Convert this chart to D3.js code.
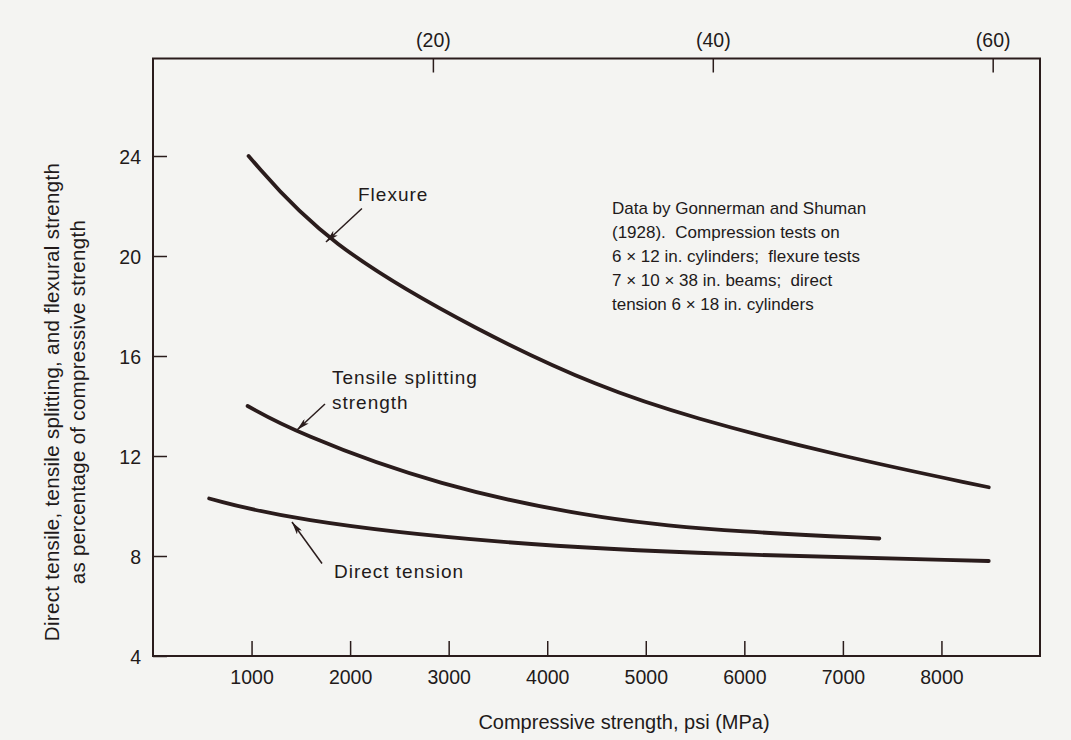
<!DOCTYPE html>
<html>
<head>
<meta charset="utf-8">
<script src="https://cdn.jsdelivr.net/npm/d3@7"></script>
<style>
  html, body { margin: 0; padding: 0; background: #f4f4f2; }
  svg { display: block; }
  text { font-family: "Liberation Sans", Arial, sans-serif; fill: #221a1a; }
</style>
</head>
<body>
<script>
// curves: compressive strength (psi) vs strength as % of compressive
var flexurePsi = [970, 1740, 3340, 4530, 5450, 6960, 8480];
var flexurePct = [24.0, 20.5, 16.9, 14.75, 13.55, 12.0, 10.75];

var splittingPsi = [960, 1440, 2880, 4620, 6000, 7370];
var splittingPct = [14.0, 12.95, 10.8, 9.4, 8.95, 8.7];

var directPsi = [570, 1390, 3450, 5790, 8480];
var directPct = [10.3, 9.45, 8.5, 8.05, 7.8];

var psiTicks = [1000, 2000, 3000, 4000, 5000, 6000, 7000, 8000];
var mpaTicks = [20, 40, 60];
var pctTicks = [4, 8, 12, 16, 20, 24];

var noteLines = [
  'Data by Gonnerman and Shuman',
  '(1928).  Compression tests on',
  '6 \u00D7 12 in. cylinders;  flexure tests',
  '7 \u00D7 10 \u00D7 38 in. beams;  direct',
  'tension 6 \u00D7 18 in. cylinders'
];

var width = 1071;
var height = 740;
var ink = '#2a1c1c';
var yTop = 27.9;

var svg = d3.select('body').append('svg')
  .attr('width', width)
  .attr('height', height);

var x = d3.scaleLinear().domain([0, 9000]).range([153, 1040]);
var y = d3.scaleLinear().domain([4, 28]).range([656, 56]);
// top axis in MPa, same pixel span
var psiPerMpa = 142;
var xm = d3.scaleLinear().domain([0, 9000 / psiPerMpa]).range([153, 1040]);

// frame
svg.append('rect')
  .attr('x', x(0))
  .attr('y', y(yTop))
  .attr('width', x(9000) - x(0))
  .attr('height', y(4) - y(yTop))
  .attr('fill', 'none')
  .attr('stroke', ink)
  .attr('stroke-width', 2);

var bottomAxis = svg.append('g')
  .attr('transform', 'translate(0,' + y(4) + ')')
  .call(d3.axisBottom(x).tickValues(psiTicks).tickSize(-15).tickPadding(14).tickFormat(d3.format('d')));

var topAxis = svg.append('g')
  .attr('transform', 'translate(0,' + y(yTop) + ')')
  .call(d3.axisTop(xm).tickValues(mpaTicks).tickSize(-14).tickPadding(12).tickFormat(function(d) { return '(' + d + ')'; }));

var leftAxis = svg.append('g')
  .attr('transform', 'translate(' + x(0) + ',0)')
  .call(d3.axisLeft(y).tickValues(pctTicks).tickSize(-14).tickPadding(12));

[bottomAxis, topAxis, leftAxis].forEach(function(g) {
  g.select('.domain').remove();
  g.selectAll('.tick line').attr('stroke', ink).attr('stroke-width', 1.5);
  g.selectAll('.tick text')
    .style('font-family', '"Liberation Sans", Arial, sans-serif')
    .style('font-size', '19.5px')
    .attr('fill', '#221a1a');
});
leftAxis.selectAll('.tick text').attr('dy', '0.36em');

// curves
var line = d3.line()
  .x(function(d) { return x(d[0]); })
  .y(function(d) { return y(d[1]); })
  .curve(d3.curveBasis);

function pairs(xs, ys) {
  return xs.map(function(v, i) { return [v, ys[i]]; });
}

[pairs(flexurePsi, flexurePct), pairs(splittingPsi, splittingPct), pairs(directPsi, directPct)].forEach(function(pts) {
  svg.append('path')
    .attr('d', line(pts))
    .attr('fill', 'none')
    .attr('stroke', ink)
    .attr('stroke-width', 3.8)
    .attr('stroke-linecap', 'round');
});

// arrow heads
svg.append('defs').append('marker')
  .attr('id', 'head')
  .attr('viewBox', '0 0 12 6')
  .attr('refX', 12)
  .attr('refY', 3)
  .attr('markerWidth', 13)
  .attr('markerHeight', 6.5)
  .attr('markerUnits', 'userSpaceOnUse')
  .attr('orient', 'auto')
  .append('path')
    .attr('d', 'M0,0 L12,3 L0,6 L3,3 Z')
    .attr('fill', ink);

function arrow(x1, y1, x2, y2) {
  svg.append('line')
    .attr('x1', x(x1)).attr('y1', y(y1))
    .attr('x2', x(x2)).attr('y2', y(y2))
    .attr('stroke', ink)
    .attr('stroke-width', 1.5)
    .attr('marker-end', 'url(#head)');
}

function label(px, pv, str) {
  svg.append('text')
    .attr('x', x(px))
    .attr('y', y(pv))
    .style('font-size', '19px')
    .style('letter-spacing', '1px')
    .text(str);
}

label(2080, 22.2, 'Flexure');
arrow(2120, 21.9, 1755, 20.56);

label(1816, 14.88, 'Tensile splitting');
label(1816, 13.88, 'strength');
arrow(1745, 14.08, 1461, 13.04);

label(1836, 7.12, 'Direct tension');
arrow(1715, 7.7, 1410, 9.36);

// data note
var note = svg.append('text')
  .attr('x', x(4657))
  .attr('y', y(21.68))
  .style('font-size', '17px');
note.selectAll('tspan')
  .data(noteLines)
  .enter()
    .append('tspan')
    .attr('x', x(4657))
    .attr('dy', function(d, i) { return i === 0 ? 0 : 24; })
    .style('white-space', 'pre')
    .text(function(d) { return d; });

// axis titles
svg.append('text')
  .attr('x', 624)
  .attr('y', 729)
  .attr('text-anchor', 'middle')
  .style('font-size', '20px')
  .text('Compressive strength, psi (MPa)');

var yTitle = svg.append('text')
  .attr('transform', 'translate(59,402) rotate(-90)')
  .attr('text-anchor', 'middle')
  .style('font-size', '20.5px')
  .style('letter-spacing', '0.3px');
yTitle.append('tspan').attr('x', 0).attr('dy', 0).text('Direct tensile, tensile splitting, and flexural strength');
yTitle.append('tspan').attr('x', 0).attr('dy', 26).text('as percentage of compressive strength');
</script>
</body>
</html>
